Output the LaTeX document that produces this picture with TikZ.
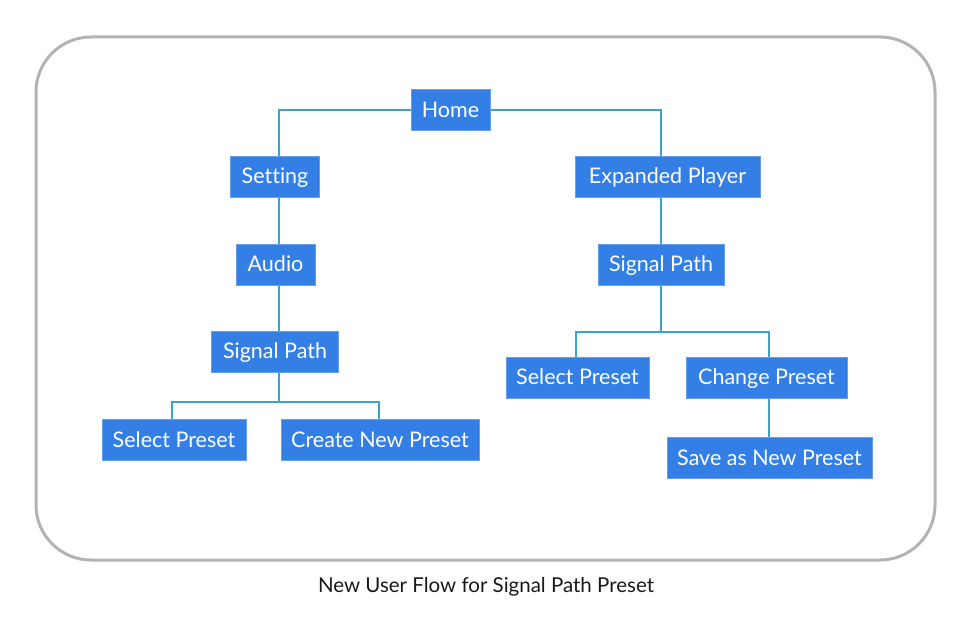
\documentclass[tikz,border=0pt]{standalone}
\usepackage{fontspec}
\setmainfont{Lato}[Ligatures={NoCommon}]
\usetikzlibrary{backgrounds}
\definecolor{boxblue}{HTML}{337FE6}
\definecolor{linec}{HTML}{3AA5C4}
\definecolor{framec}{HTML}{B5B2B2}
\begin{document}
\begin{tikzpicture}[x=1pt,y=-1pt,
  box/.style={fill=boxblue, draw=boxblue!75!white, line width=0.6pt, text=white,
    font=\fontsize{21.5}{24}\selectfont, minimum height=41pt, inner sep=0pt,
    text height=16pt, text depth=1.5pt, anchor=center},
  conn/.style={draw=linec, line width=2.6pt}]
\useasboundingbox (0,0) rectangle (972,628);
\node[box, minimum width=79] (home) at (450.5,110) {Home};
\node[box, minimum width=89] (setting) at (275,176.5) {Setting};
\node[box, minimum width=185] (exp) at (667.5,176.5) {Expanded Player};
\node[box, minimum width=79] (audio) at (275.5,264.5) {Audio};
\node[box, minimum width=127] (spL) at (275,351.5) {Signal Path};
\node[box, minimum width=126] (spR) at (661,264.5) {Signal Path};
\node[box, minimum width=144] (selL) at (174,440) {Select Preset};
\node[box, minimum width=198] (create) at (380,440) {Create New Preset};
\node[box, minimum width=143] (selR) at (577.5,377.5) {Select Preset};
\node[box, minimum width=161] (change) at (766.5,377.5) {Change Preset};
\node[box, minimum width=205] (save) at (769.5,458) {Save as New Preset};
\node[font=\fontsize{20.5}{23}\selectfont, text=black!90, anchor=base] (cap) at (486,592) {New User Flow for Signal Path Preset};
\coordinate (bR) at (661,332);
\coordinate (bL) at (279,402);
\begin{scope}[on background layer]
\draw[framec, line width=3pt, rounded corners=55pt] (36,37) rectangle (935,560);
\draw[conn] (home.west) -| ([xshift=4]setting.north);
\draw[conn] (home.east) -| ([xshift=-6.5]exp.north);
\draw[conn] ([xshift=4]setting.south) -- ([xshift=3.5]audio.north);
\draw[conn] ([xshift=3.5]audio.south) -- ([xshift=4]spL.north);
\draw[conn] ([xshift=-6.5]exp.south) -- (spR.north);
\draw[conn] (spR.south) -- (bR);
\draw[conn] ([xshift=-1.5]selR.north) |- (bR) -| ([xshift=2.5]change.north);
\draw[conn] ([xshift=2.5]change.south) -- ([xshift=-0.5]save.north);
\draw[conn] ([xshift=4]spL.south) -- (bL);
\draw[conn] ([xshift=-2]selL.north) |- (bL) -| ([xshift=-1]create.north);
\end{scope}
\end{tikzpicture}
\end{document}
